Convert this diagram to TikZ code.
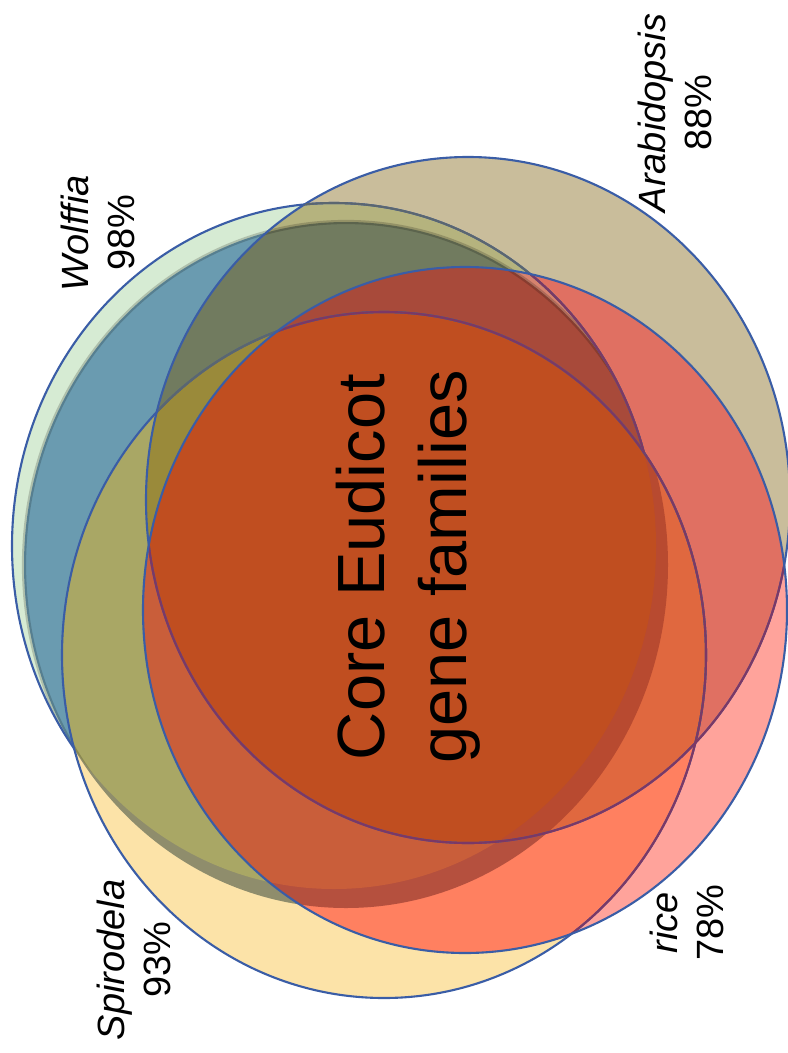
\documentclass[tikz,border=0pt]{standalone}
\usepackage{fontspec}
\setmainfont{Liberation Sans}

\definecolor{edgeblue}{HTML}{3A5DA6}
\definecolor{edgegray}{HTML}{5B6670}
\definecolor{edgeplum}{HTML}{7B3866}
% one colour per overlap (Wout Win S A R)
\definecolor{cWo}{HTML}{D6EBD3}
\definecolor{cS}{HTML}{FCE3A8}
\definecolor{cA}{HTML}{C9BD9B}
\definecolor{cR}{HTML}{FFA39B}
\definecolor{cWoWi}{HTML}{6A9BB0}
\definecolor{cWoA}{HTML}{B5B37E}
\definecolor{cWoS}{HTML}{E0E6B4}
\definecolor{cWiS}{HTML}{8F8D6C}
\definecolor{cSR}{HTML}{FF8060}
\definecolor{cAR}{HTML}{E07062}
\definecolor{cWoAR}{HTML}{D6836E}
\definecolor{cWoWiA}{HTML}{717B5F}
\definecolor{cWoWiS}{HTML}{A9A765}
\definecolor{cWiSR}{HTML}{B5503E}
\definecolor{cSAR}{HTML}{E0683F}
\definecolor{cWoWiAR}{HTML}{A84A3A}
\definecolor{cWoWiSA}{HTML}{9A8A3A}
\definecolor{cWoWiSR}{HTML}{C95E3A}
\definecolor{cWiSAR}{HTML}{B84A30}
\definecolor{cCore}{HTML}{C04E20}

\newcommand{\wolffiaout}{(334,546) ellipse [x radius=322, y radius=343]}
\newcommand{\wolffiain}{(346,565) ellipse [x radius=322, y radius=343]}
\newcommand{\spirodela}{(384,655) ellipse [x radius=322, y radius=343]}
\newcommand{\arabidopsis}{(468,500) ellipse [x radius=322, y radius=343]}
\newcommand{\rice}{(465,610) ellipse [x radius=322, y radius=343]}

\tikzset{
  species/.style={rotate=90, align=center, inner sep=0pt, font=\fontsize{10.8}{13.3}\selectfont},
  core/.style={rotate=90, align=center, inner sep=0pt, font=\fontsize{19}{23.3}\selectfont},
  rim/.style={draw=edgeblue, line width=0.6pt}
}

\begin{document}
\begin{tikzpicture}[x=0.1mm, y=-0.1mm]
\useasboundingbox (0,0) rectangle (788,1053);

% single sets
\fill[cWo] \wolffiaout;
\fill[cS] \spirodela;
\fill[cA] \arabidopsis;
\fill[cR] \rice;

% two sets
\begin{scope}\clip \wolffiaout; \fill[cWoWi] \wolffiain; \end{scope}
\begin{scope}\clip \wolffiaout; \fill[cWoA] \arabidopsis; \end{scope}
\begin{scope}\clip \wolffiaout; \fill[cWoS] \spirodela; \end{scope}
\begin{scope}\clip \wolffiain; \fill[cWiS] \spirodela; \end{scope}
\begin{scope}\clip \spirodela; \fill[cSR] \rice; \end{scope}
\begin{scope}\clip \arabidopsis; \fill[cAR] \rice; \end{scope}

% three sets
\begin{scope}\clip \wolffiaout; \clip \arabidopsis; \fill[cWoAR] \rice; \end{scope}
\begin{scope}\clip \wolffiaout; \clip \wolffiain; \fill[cWoWiA] \arabidopsis; \end{scope}
\begin{scope}\clip \wolffiaout; \clip \wolffiain; \fill[cWoWiS] \spirodela; \end{scope}
\begin{scope}\clip \wolffiain; \clip \spirodela; \fill[cWiSR] \rice; \end{scope}
\begin{scope}\clip \spirodela; \clip \arabidopsis; \fill[cSAR] \rice; \end{scope}

% four sets
\begin{scope}\clip \wolffiaout; \clip \wolffiain; \clip \arabidopsis; \fill[cWoWiAR] \rice; \end{scope}
\begin{scope}\clip \wolffiaout; \clip \wolffiain; \clip \spirodela; \fill[cWoWiSA] \arabidopsis; \end{scope}
\begin{scope}\clip \wolffiaout; \clip \wolffiain; \clip \spirodela; \fill[cWoWiSR] \rice; \end{scope}
\begin{scope}\clip \wolffiain; \clip \spirodela; \clip \arabidopsis; \fill[cWiSAR] \rice; \end{scope}

% core
\begin{scope}\clip \wolffiaout; \clip \wolffiain; \clip \spirodela; \clip \arabidopsis; \fill[cCore] \rice; \end{scope}

% outlines
\begin{scope}\clip \wolffiaout;
  \draw[black, opacity=0.18, line width=1.2pt] \wolffiain;
\end{scope}
\draw[rim] \spirodela;
\begin{scope}\clip \arabidopsis;
  \draw[rim, draw=edgegray] \spirodela;
\end{scope}
\draw[rim] \arabidopsis;
\begin{scope}\clip \rice;
  \draw[rim, draw=edgeplum] \spirodela;
  \draw[rim, draw=edgeplum] \arabidopsis;
\end{scope}
% Wolffia edge is hidden under Spirodela
\begin{scope}[even odd rule]
  \clip (-20,-20) rectangle (820,1080) \spirodela;
  \draw[rim] \wolffiaout;
  \begin{scope}\clip \arabidopsis;
    \draw[rim, draw=edgegray] \wolffiaout;
  \end{scope}
  \begin{scope}\clip \rice;
    \draw[rim, draw=edgeplum] \wolffiaout;
  \end{scope}
\end{scope}
\draw[rim] \rice;

\node[core] (core) at (408,567) {Core Eudicot\\gene families};

\node[species] (wolffia) at (98,233) {\textit{Wolffia}\\98\%};
\node[species] (arabidopsis) at (675,113) {\textit{Arabidopsis}\\88\%};
\node[species] (spirodela) at (134,960) {\textit{Spirodela}\\93\%};
\node[species] (rice) at (687,923) {\textit{rice}\\78\%};

\end{tikzpicture}
\end{document}
